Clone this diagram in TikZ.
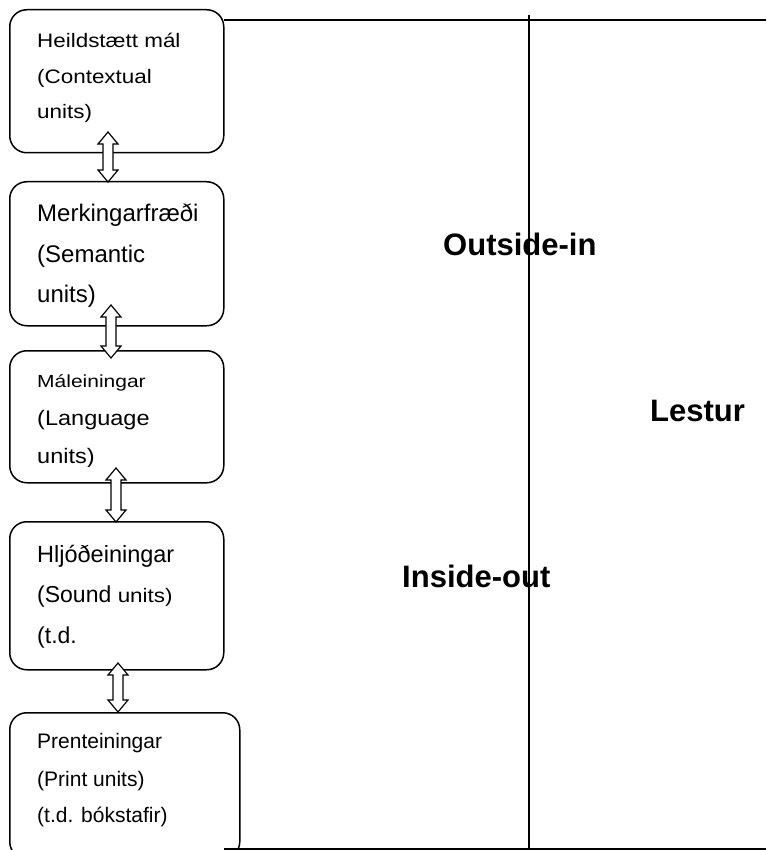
\documentclass[tikz,border=0pt]{standalone}
\usepackage{fontspec}
\setmainfont{Liberation Sans}
\newfontfamily\wideA[FakeStretch=1.15]{Liberation Sans}
\newfontfamily\wideB[FakeStretch=1.2]{Liberation Sans}
\newfontfamily\wideC[FakeStretch=1.12]{Liberation Sans}
\newcommand{\fs}[1]{\fontsize{#1}{#1}\selectfont}
\tikzset{
  unitbox/.style={draw, line width=1.5pt, rounded corners=17pt, anchor=north west, inner sep=0pt},
  boxtext/.style={anchor=base west, inner sep=0pt},
  biglabel/.style={anchor=base west, inner sep=0pt, font=\fs{31}\bfseries},
  rule/.style={line width=1.6pt},
  dblarrow/.style={draw, fill=white, line width=1.2pt, line join=miter}
}
% hollow up-down arrow: name, x of the axis, top y, bottom y
\newcommand{\updown}[4]{%
  \coordinate (#1-t) at (#2,#3);
  \coordinate (#1-b) at (#2,#4);
  \draw[dblarrow] (#1-t) -- ({#2+10},{#3+12}) -- ({#2+5},{#3+12})
    -- ({#2+5},{#4-12}) -- ({#2+10},{#4-12}) -- (#1-b)
    -- ({#2-10},{#4-12}) -- ({#2-5},{#4-12}) -- ({#2-5},{#3+12})
    -- ({#2-10},{#3+12}) -- cycle;
}
\begin{document}
\begin{tikzpicture}[x=1pt, y=-1pt]
\useasboundingbox (0,0) rectangle (766,850);
\clip (0,0) rectangle (766,850);

% frame lines on the right
\coordinate (tl) at (224,20);
\coordinate (tr) at (766,20);
\coordinate (bl) at (224,849);
\coordinate (br) at (766,849);
\coordinate (vt) at (529,15);
\coordinate (vb) at (529,850);
\draw[rule] (tl) -- (tr);
\draw[rule] (bl) -- (br);
\draw[rule] (vt) -- (vb);

% stacked unit boxes
\node[unitbox, minimum width=214pt, minimum height=143pt] (b1) at (9,9) {};
\node[unitbox, minimum width=214pt, minimum height=144pt] (b2) at (9,181) {};
\node[unitbox, minimum width=214pt, minimum height=132pt] (b3) at (9,350) {};
\node[unitbox, minimum width=214pt, minimum height=148pt] (b4) at (9,521) {};
\node[unitbox, minimum width=230pt, minimum height=146pt] (b5) at (9,712) {};

% box texts
\node[boxtext, font=\wideA\fs{19.5}] (t11) at (37,48) {Heildstætt mál};
\node[boxtext, font=\wideA\fs{19.5}] (t12) at (37,84) {(Contextual};
\node[boxtext, font=\wideA\fs{19.5}] (t13) at (37,119) {units)};

\node[boxtext, font=\fs{24}] (t21) at (37,222) {Merkingarfræði};
\node[boxtext, font=\fs{24}] (t22) at (37,262) {(Semantic};
\node[boxtext, font=\fs{24}] (t23) at (37,302) {units)};

\node[boxtext, font=\wideB\fs{17.5}] (t31) at (37,387) {Máleiningar};
\node[boxtext, font=\wideC\fs{21}] (t32) at (37,425) {(Language};
\begin{scope}
  \clip (0,350) rectangle (240,466);
  \node[boxtext, font=\wideC\fs{21}] (t33) at (37,463) {units)};
\end{scope}

\node[boxtext, font=\fs{23.5}] (t41) at (37,562) {Hljóðeiningar};
\node[boxtext, font=\fs{23}] (t42) at (37,602) {(Sound {\wideA\fs{19.5}units)}};
\node[boxtext, font=\fs{23}] (t43) at (37,643) {(t.d.};

\node[boxtext, font=\fs{21}] (t51) at (37,748) {Prenteiningar};
\node[boxtext, font=\fs{21}] (t52) at (37,786) {(Print units)};
\node[boxtext, font=\fs{21}] (t53) at (37,822) {(t.d. bókstafir)};

% double arrows between the boxes
\updown{ar1}{108}{132}{182}
\updown{ar2}{111}{305}{358}
\updown{ar3}{116}{468}{522}
\updown{ar4}{118}{663}{712}

% labels
\node[biglabel] (oi) at (443,255) {Outside-in};
\node[biglabel] (io) at (402,587) {Inside-out};
\node[biglabel] (le) at (650,421) {Lestur};
\end{tikzpicture}
\end{document}
